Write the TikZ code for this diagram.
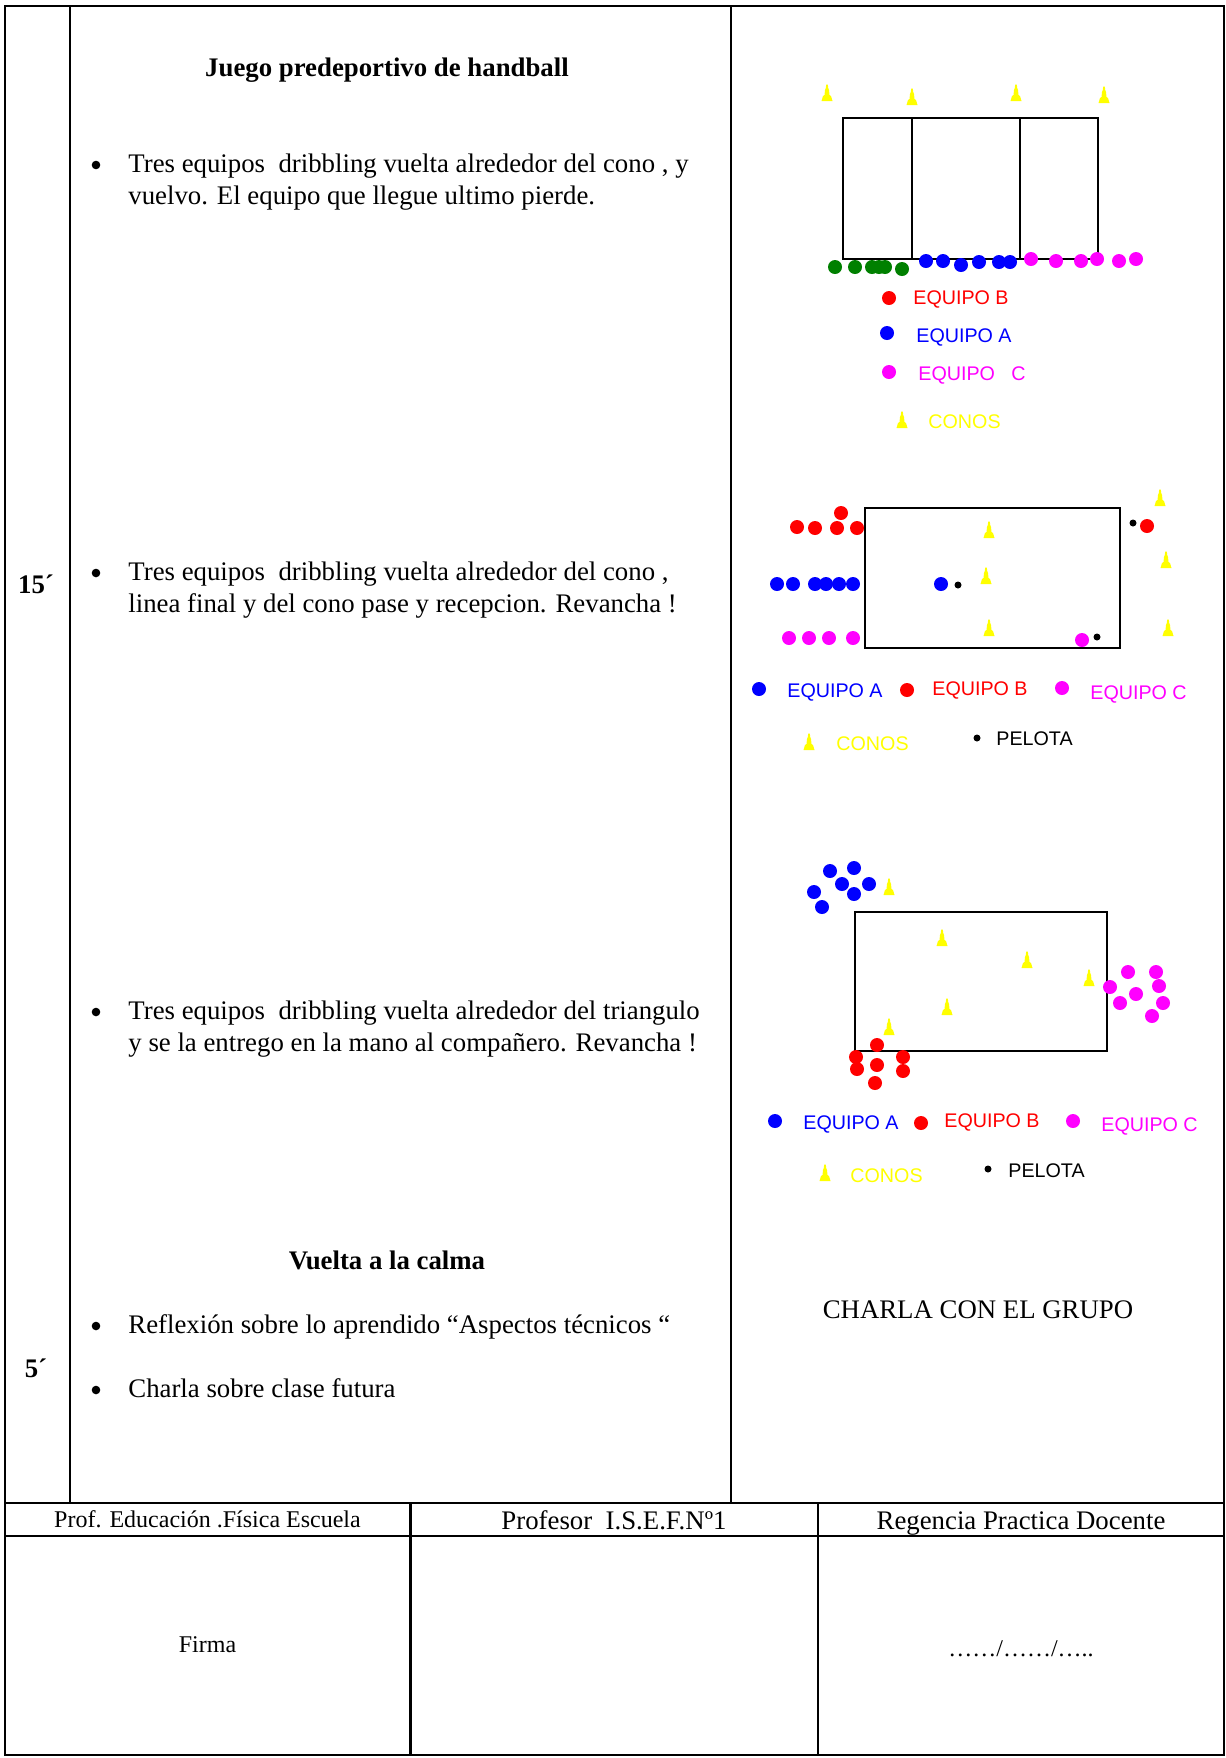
\documentclass[tikz,border=0pt]{standalone}
\usepackage{fontspec}
\setmainfont{Liberation Serif}
\newfontfamily\sansf{Liberation Sans}
\definecolor{tred}{RGB}{255,0,0}
\definecolor{tblue}{RGB}{0,0,255}
\definecolor{tmag}{RGB}{255,0,255}
\definecolor{tgreen}{RGB}{0,128,0}
\definecolor{tyel}{RGB}{255,255,0}
\tikzset{
  conepic/.pic={\fill[tyel] (-5.5,8) -- (5.5,8) -- (4,3) -- (2.5,2) -- (2,-3) -- (1.2,-5) -- (0.8,-8.5) -- (-0.8,-8.5) -- (-1.2,-5) -- (-2,-3) -- (-2.5,2) -- (-4,3) -- cycle;},
  bulletpic/.pic={\fill[black] (0,-7) circle[radius=4.3];},
  tline/.style={line width=1.1pt},
  field/.style={line width=0.8pt},
  body/.style={inner sep=0pt,anchor=base west,font=\fontsize{13.4}{16}\selectfont},
  bodyc/.style={inner sep=0pt,anchor=base,font=\fontsize{13.4}{16}\selectfont},
  small/.style={inner sep=0pt,anchor=base,font=\fontsize{12}{14}\selectfont},
  head/.style={inner sep=0pt,anchor=base,font=\fontsize{13.4}{16}\selectfont\bfseries},
  leg/.style={inner sep=0pt,anchor=base west,font=\sansf\fontsize{9.85}{12}\selectfont},
}
\begin{document}
\begin{tikzpicture}[x=0.5pt,y=-0.5pt]
\useasboundingbox (0,0) rectangle (1226,1758);
% table
\draw[tline] (5,6) rectangle (1224,1755);
\draw[tline] (70,6) -- (70,1503);
\draw[tline] (731,6) -- (731,1503);
\draw[tline] (5,1503) -- (1224,1503);
\draw[tline] (5,1536) -- (1224,1536);
\draw[tline] (410.5,1503) -- (410.5,1755);
\draw[tline] (818,1503) -- (818,1755);

% left column texts
\node[head] (t15) at (36,593) {15´};
\node[head] (t5) at (36,1377) {5´};

% middle column
\node[head] (tit1) at (387,76) {Juego predeportivo de handball};
\pic at (96,172) {bulletpic};
\node[body] (l1a) at (128,172) {Tres equipos\ \ dribbling vuelta alrededor del cono , y};
\node[body] (l1b) at (128,204.5) {vuelvo. El equipo que llegue ultimo pierde.};
\pic at (96,580) {bulletpic};
\node[body] (l2a) at (128,580) {Tres equipos\ \ dribbling vuelta alrededor del cono ,};
\node[body] (l2b) at (128,612) {linea final y del cono pase y recepcion. Revancha !};
\pic at (96,1019) {bulletpic};
\node[body] (l3a) at (128,1019) {Tres equipos\ \ dribbling vuelta alrededor del triangulo};
\node[body] (l3b) at (128,1051) {y se la entrego en la mano al compañero. Revancha !};
\node[head] (tit2) at (387,1269) {Vuelta a la calma};
\pic at (96,1333) {bulletpic};
\node[body] (l4) at (128,1333) {Reflexión sobre lo aprendido “Aspectos técnicos “};
\pic at (96,1397) {bulletpic};
\node[body] (l5) at (128,1397) {Charla sobre clase futura};

% right column
\node[bodyc] (charla) at (978,1318) {CHARLA CON EL GRUPO};

% bottom table
\node[small] (f1) at (207.5,1527) {Prof. Educación .Física Escuela};
\node[bodyc] (f2) at (614,1529) {Profesor\ \ I.S.E.F.Nº1};
\node[bodyc] (f3) at (1021,1529) {Regencia Practica Docente};
\node[small] (f4) at (207.5,1652) {Firma};
\node[small] (f5) at (1021,1656) {……/……/…..};

% ---------- diagram 1 ----------
\draw[field] (843,118) rectangle (1098,259);
\draw[field] (912,118) -- (912,259);
\draw[field] (1020,118) -- (1020,259);
\foreach \p in {(827,93),(912,97),(1016,93),(1104,95)} \pic at \p {conepic};
\foreach \p in {(835,267),(855,267),(872,267),(879,267),(885,267),(902,269)} \fill[tgreen] \p circle[radius=7];
\foreach \p in {(926,261),(943,261),(961,265),(979,262),(999,262),(1010,262)} \fill[tblue] \p circle[radius=7];
\foreach \p in {(1031,259),(1056,261),(1081,261),(1097,259),(1119,261),(1136,259)} \fill[tmag] \p circle[radius=7];
\fill[tred] (889,298) circle[radius=7];
\node[leg,text=tred] (d1b) at (913,304) {EQUIPO B};
\fill[tblue] (887,333) circle[radius=7];
\node[leg,text=tblue] (d1a) at (916,342) {EQUIPO A};
\fill[tmag] (889,372) circle[radius=7];
\node[leg,text=tmag] (d1c) at (918,380) {EQUIPO\ \ \ C};
\pic at (902,420) {conepic};
\node[leg,text=tyel] (d1k) at (928,428) {CONOS};

% ---------- diagram 2 ----------
\draw[field] (865,508) rectangle (1120,648);
\foreach \p in {(989,530),(986,576),(989,628),(1160,498),(1166,560),(1168,628)} \pic at \p {conepic};
\foreach \p in {(797,527),(815,528),(837,528),(841,513),(857,528),(1147,526)} \fill[tred] \p circle[radius=7];
\foreach \p in {(777,584),(793,584),(815,584),(826,584),(839,584),(853,584),(941,584)} \fill[tblue] \p circle[radius=7];
\foreach \p in {(789,638),(809,638),(829,638),(853,638),(1082,640)} \fill[tmag] \p circle[radius=7];
\foreach \p in {(1133,523),(958,585),(1097,637)} \fill[black] \p circle[radius=3.5];
\fill[tblue] (759,689) circle[radius=7];
\node[leg,text=tblue] (d2a) at (787,697) {EQUIPO A};
\fill[tred] (907,690) circle[radius=7];
\node[leg,text=tred] (d2b) at (932,695) {EQUIPO B};
\fill[tmag] (1062,688) circle[radius=7];
\node[leg,text=tmag] (d2c) at (1090,699) {EQUIPO C};
\pic at (809,742) {conepic};
\node[leg,text=tyel] (d2k) at (836,750) {CONOS};
\fill[black] (977,738) circle[radius=3.5];
\node[leg,text=black] (d2p) at (996,745) {PELOTA};

% ---------- diagram 3 ----------
\draw[field] (855,912) rectangle (1107,1051);
\foreach \p in {(889,887),(942,938),(1027,960),(1089,978),(947,1007),(889,1027)} \pic at \p {conepic};
\foreach \p in {(830,871),(854,868),(842,884),(869,884),(854,894),(814,892),(822,907)} \fill[tblue] \p circle[radius=7];
\foreach \p in {(1128,972),(1156,972),(1110,987),(1159,986),(1136,994),(1120,1003),(1163,1003),(1152,1016)} \fill[tmag] \p circle[radius=7];
\foreach \p in {(877,1045),(856,1057),(903,1057),(857,1069),(877,1065),(903,1071),(875,1083)} \fill[tred] \p circle[radius=7];
\fill[tblue] (775,1121) circle[radius=7];
\node[leg,text=tblue] (d3a) at (803,1129) {EQUIPO A};
\fill[tred] (921,1123) circle[radius=7];
\node[leg,text=tred] (d3b) at (944,1127) {EQUIPO B};
\fill[tmag] (1073,1121) circle[radius=7];
\node[leg,text=tmag] (d3c) at (1101,1131) {EQUIPO C};
\pic at (825,1173) {conepic};
\node[leg,text=tyel] (d3k) at (850,1182) {CONOS};
\fill[black] (988,1169) circle[radius=3.5];
\node[leg,text=black] (d3p) at (1008,1177) {PELOTA};
\end{tikzpicture}
\end{document}
